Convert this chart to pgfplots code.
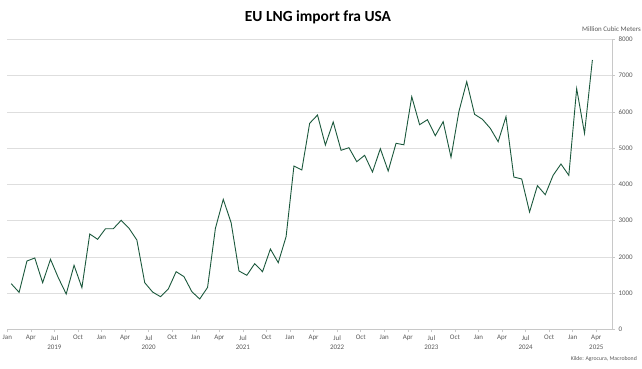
\documentclass[border=0pt]{standalone}
\usepackage{fontspec}
\setmainfont{Carlito}
\usepackage{pgfplots}
\pgfplotsset{compat=1.18}
\definecolor{linegreen}{RGB}{27,88,60}
\definecolor{gridgray}{RGB}{222,222,222}
\definecolor{axisgray}{RGB}{200,200,200}
\definecolor{txtgray}{RGB}{89,89,89}
\begin{document}
\begin{tikzpicture}[x=1bp,y=1bp]
\useasboundingbox (0,0) rectangle (642,368);
\begin{axis}[
  at={(7.3bp,38.7bp)}, anchor=south west,
  scale only axis, width=604.7bp, height=290bp,
  xmin=0, xmax=77, ymin=0, ymax=8000,
  axis x line=bottom, axis y line=right,
  axis line style={-, draw=axisgray, line width=0.5bp},
  tick align=outside, major tick length=3bp,
  tick style={draw=axisgray, line width=0.5bp},
  xtick={0,3,...,75},
  xticklabels={Jan,Apr,Jul,Oct,Jan,Apr,Jul,Oct,Jan,Apr,Jul,Oct,Jan,Apr,Jul,Oct,Jan,Apr,Jul,Oct,Jan,Apr,Jul,Oct,Jan,Apr},
  ytick={0,1000,...,8000},
  ymajorgrids, grid style={draw=gridgray, line width=0.6bp},
  xticklabel style={font=\fontsize{7}{8}\selectfont, text=txtgray, yshift=0.5bp},
  yticklabel style={font=\fontsize{7}{8}\selectfont, text=txtgray, anchor=west, xshift=0bp},
  /pgf/number format/assume math mode=true,
  /pgf/number format/set thousands separator={},
  clip=false,
]
\addplot[linegreen, line width=0.9bp, mark=none] coordinates {
(0.5,1258) (1.5,1020) (2.5,1884) (3.5,1967) (4.5,1286) (5.5,1931) (6.5,1420) (7.5,974)
(8.5,1765) (9.5,1148) (10.5,2629) (11.5,2483) (12.5,2775) (13.5,2775) (14.5,3007) (15.5,2786)
(16.5,2463) (17.5,1286) (18.5,1029) (19.5,900) (20.5,1112) (21.5,1590) (22.5,1452) (23.5,1038)
(24.5,836) (25.5,1155) (26.5,2786) (27.5,3586) (28.5,2941) (29.5,1608) (30.5,1490) (31.5,1810)
(32.5,1590) (33.5,2215) (34.5,1838) (35.5,2556) (36.5,4505) (37.5,4395) (38.5,5683) (39.5,5911)
(40.5,5084) (41.5,5719) (42.5,4938) (43.5,5010) (44.5,4624) (45.5,4800) (46.5,4339) (47.5,4983)
(48.5,4367) (49.5,5131) (50.5,5090) (51.5,6417) (52.5,5645) (53.5,5783) (54.5,5341) (55.5,5728)
(56.5,4745) (57.5,6003) (58.5,6831) (59.5,5931) (60.5,5793) (61.5,5545) (62.5,5176) (63.5,5866)
(64.5,4201) (65.5,4146) (66.5,3236) (67.5,3963) (68.5,3714) (69.5,4248) (70.5,4560) (71.5,4248)
(72.5,6638) (73.5,5407) (74.5,7429)
};
\tikzset{yearlbl/.style={font=\fontsize{7}{8}\selectfont, text=txtgray, anchor=center, yshift=-18.4bp}}
\node[yearlbl] at (axis cs:6,0) {2019};
\node[yearlbl] at (axis cs:18,0) {2020};
\node[yearlbl] at (axis cs:30,0) {2021};
\node[yearlbl] at (axis cs:42,0) {2022};
\node[yearlbl] at (axis cs:54,0) {2023};
\node[yearlbl] at (axis cs:66,0) {2024};
\node[yearlbl] at (axis cs:75,0) {2025};
\end{axis}
\node[font=\fontsize{15.5}{18}\bfseries, anchor=base] at (318,347) {EU LNG import fra USA};
\node[font=\fontsize{7}{8}\selectfont, text=txtgray, anchor=east, inner sep=0pt] at (641,339) {Million Cubic Meters};
\node[font=\fontsize{5.8}{7}\selectfont, text=txtgray, anchor=east, inner sep=0pt] at (637,8.7) {Kilde: Agrocura, Macrobond};
\end{tikzpicture}
\end{document}
